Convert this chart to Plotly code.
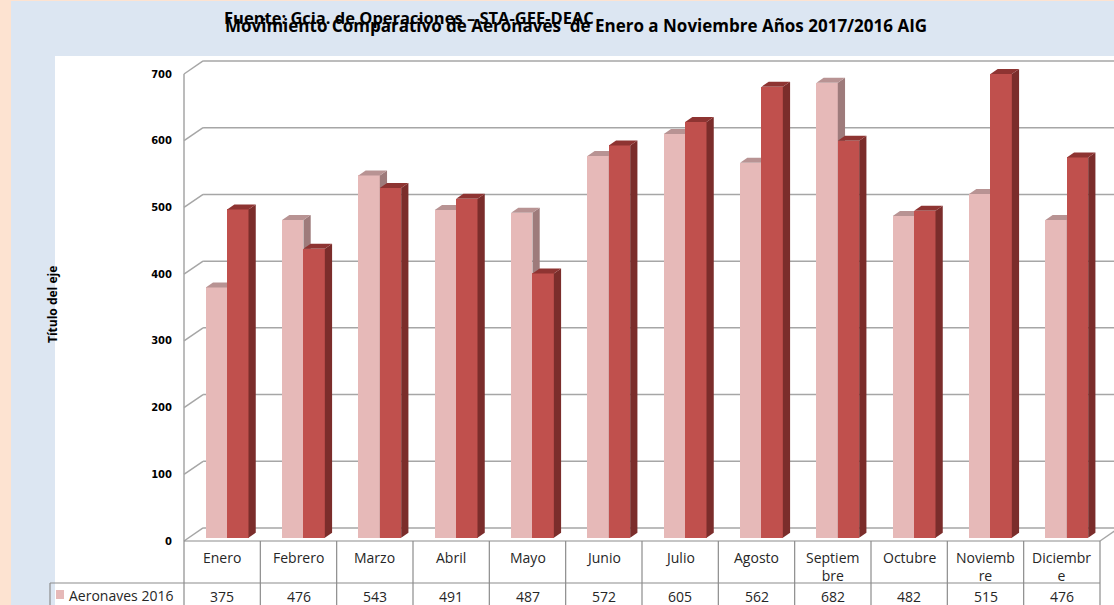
import plotly.graph_objects as go

# Meses (categorias de la tabla)
meses = ['Enero', 'Febrero', 'Marzo', 'Abril', 'Mayo', 'Junio', 'Julio',
         'Agosto', 'Septiembre', 'Octubre', 'Noviembre', 'Diciembre']
# etiquetas tal como aparecen cortadas en la tabla
etiquetas = ['Enero', 'Febrero', 'Marzo', 'Abril', 'Mayo', 'Junio', 'Julio',
             'Agosto', 'Septiem<br>bre', 'Octubre', 'Noviemb<br>re', 'Diciembr<br>e']

aeronaves_2016 = [375, 476, 543, 491, 487, 572, 605, 562, 682, 482, 515, 476]
aeronaves_2017 = [492, 433, 524, 508, 396, 588, 623, 676, 595, 490, 695, 570]

ticks_y = [0, 100, 200, 300, 400, 500, 600, 700]

titulo = 'Movimiento Comparativo de Aeronaves  de Enero a Noviembre Años 2017/2016 AIG'
fuente = 'Fuente: Gcia. de Operaciones – STA-GEE-DEAC'

# --- geometria (pixeles de la imagen) ---
W, H = 1114, 605
L, T = 178, 55                   # esquina del area de trazado
SX = (1100 - 184) / 12           # px por categoria
SY = 467 / 700                   # px por unidad
X0, Y0 = 184, 541                # frente: x=-0.5, y=0


def xd(px):
    return -0.5 + (px - X0) / SX


def yd(py):
    return (Y0 - py) / SY


def xp(px):
    return (px - L) / (W - L)


def yp(py):
    return (H - py) / (H - T)


xr = [xd(L), xd(W)]
yr = [yd(H), yd(T)]

# profundidad 3D
GX, GY = 0.25, 19.5      # pared del fondo
DX, DY = 0.095, 7.5      # lado de las barras
BASE = 5
BW, BOFF = 0.28, 0.065

rosa, rosa_lado, rosa_top = '#e6b9b8', '#9e7b7b', '#b89393'
rojo, rojo_lado, rojo_top = '#c0504d', '#7b2d2b', '#8e3432'


def caras(vals, x_izq):
    sx, sy, tx, ty = [], [], [], []
    for i, v in enumerate(vals):
        a = i + x_izq
        b = a + BW
        top = v + BASE
        sx += [b, b, b + DX, b + DX, b, None]
        sy += [BASE, top, top + DY, BASE + DY, BASE, None]
        tx += [a, b, b + DX, a + DX, a, None]
        ty += [top, top, top + DY, top + DY, top, None]
    return sx, sy, tx, ty


def serie(vals, x_izq, c, c_lado, c_top, xa, ya, nombre):
    idx = list(range(len(vals)))
    sx, sy, tx, ty = caras(vals, x_izq)
    return [
        go.Bar(x=[i + x_izq + BW / 2 for i in idx], y=vals, base=BASE, width=BW,
               marker=dict(color=c, line=dict(width=0)), name=nombre,
               xaxis=xa, yaxis=ya, hoverinfo='skip'),
        go.Scatter(x=sx, y=sy, fill='toself', fillcolor=c_lado, mode='lines',
                   line=dict(width=0, color=c_lado), xaxis=xa, yaxis=ya, hoverinfo='skip'),
        go.Scatter(x=tx, y=ty, fill='toself', fillcolor=c_top, mode='lines',
                   line=dict(width=0, color=c_top), xaxis=xa, yaxis=ya, hoverinfo='skip'),
    ]


fig = go.Figure()
for t in serie(aeronaves_2016, BOFF - BW, rosa, rosa_lado, rosa_top, 'x', 'y', 'Aeronaves 2016'):
    fig.add_trace(t)
for t in serie(aeronaves_2017, BOFF, rojo, rojo_lado, rojo_top, 'x2', 'y2', 'Aeronaves 2017'):
    fig.add_trace(t)

shapes = []
# fondos
shapes.append(dict(type='rect', xref='paper', yref='paper', x0=xp(11), x1=xp(W), y0=yp(H), y1=yp(1),
                   fillcolor='#dce6f2', line=dict(width=0), layer='below'))
shapes.append(dict(type='rect', xref='paper', yref='paper', x0=xp(55), x1=xp(W), y0=yp(H), y1=yp(56),
                   fillcolor='white', line=dict(width=0), layer='below'))

grid = dict(color='#a6a6a6', width=1.5)
for v in ticks_y:
    shapes.append(dict(type='line', xref='x', yref='y', x0=-0.5, y0=v, x1=-0.5 + GX, y1=v + GY,
                       line=grid, layer='below'))
    shapes.append(dict(type='line', xref='x', yref='y', x0=-0.5 + GX, y0=v + GY, x1=xr[1], y1=v + GY,
                       line=grid, layer='below'))
shapes.append(dict(type='line', xref='x', yref='y', x0=11.5, y0=0, x1=11.5 + GX, y1=GY,
                   line=grid, layer='below'))
shapes.append(dict(type='line', xref='x', yref='y', x0=-0.5, y0=0, x1=-0.5, y1=700,
                   line=grid, layer='below'))

# tabla de datos
tabla = dict(color='#8c8c8c', width=1.2)
fila2 = yd(583)
for k in range(13):
    shapes.append(dict(type='line', xref='x', yref='y', x0=-0.5 + k, x1=-0.5 + k, y0=0, y1=yr[0],
                       line=tabla, layer='below'))
for yy in [0, fila2]:
    shapes.append(dict(type='line', xref='x', yref='y', x0=-0.5, x1=11.5, y0=yy, y1=yy,
                       line=tabla, layer='below'))
shapes.append(dict(type='line', xref='paper', yref='paper', x0=xp(50), x1=xp(X0), y0=yp(583), y1=yp(583),
                   line=tabla))
shapes.append(dict(type='line', xref='paper', yref='paper', x0=xp(50), x1=xp(50), y0=yp(583), y1=yp(H),
                   line=tabla))
shapes.append(dict(type='rect', xref='paper', yref='paper', x0=xp(56), x1=xp(64), y0=yp(599), y1=yp(590),
                   fillcolor=rosa, line=dict(width=0)))

ann = []
fuente_tabla = dict(family='Open Sans', size=14, color='#262626')
for i, et in enumerate(etiquetas):
    ann.append(dict(x=i, y=yd(546), xref='x', yref='y', text=et, showarrow=False,
                    yanchor='top', font=fuente_tabla))
    ann.append(dict(x=i, y=yd(596), xref='x', yref='y', text=str(aeronaves_2016[i]), showarrow=False,
                    yanchor='middle', font=fuente_tabla))
ann.append(dict(x=xp(67), y=yp(595), xref='paper', yref='paper', text='Aeronaves 2016',
                showarrow=False, xanchor='left', yanchor='middle', font=fuente_tabla))
ann.append(dict(x=xp(576), y=yp(25), xref='paper', yref='paper', text='<b>' + titulo + '</b>',
                showarrow=False, xanchor='center', yanchor='middle',
                font=dict(family='Open Sans', size=17, color='black')))
ann.append(dict(x=xp(222), y=yp(18), xref='paper', yref='paper', text='<b>' + fuente + '</b>',
                showarrow=False, xanchor='left', yanchor='middle',
                font=dict(family='Open Sans', size=16.5, color='black')))
ann.append(dict(x=xp(52), y=yp(305), xref='paper', yref='paper', text='<b>Título del eje</b>',
                showarrow=False, textangle=-90, xanchor='center', yanchor='middle',
                font=dict(family='Open Sans', size=12, color='black')))

eje_x = dict(range=xr, showgrid=False, zeroline=False, showticklabels=False, showline=False,
             fixedrange=True)
fig.update_layout(
    width=W, height=H,
    margin=dict(l=L, r=0, t=T, b=0),
    paper_bgcolor='#fde3d1',
    plot_bgcolor='rgba(0,0,0,0)',
    showlegend=False,
    bargap=0,
    xaxis=eje_x,
    xaxis2=dict(eje_x, overlaying='x', matches='x'),
    yaxis=dict(range=yr, showgrid=False, zeroline=False, showline=False, automargin=False,
               tickvals=ticks_y, ticks='', ticklabelstandoff=5,
               tickfont=dict(family='DejaVu Sans', size=10, color='black', weight='bold')),
    yaxis2=dict(range=yr, overlaying='y', matches='y', showgrid=False, zeroline=False,
                showticklabels=False, showline=False),
    shapes=shapes,
    annotations=ann,
)

fig.write_html('out.html', config={'displayModeBar': False},
               post_script="document.body.style.margin='0';")
